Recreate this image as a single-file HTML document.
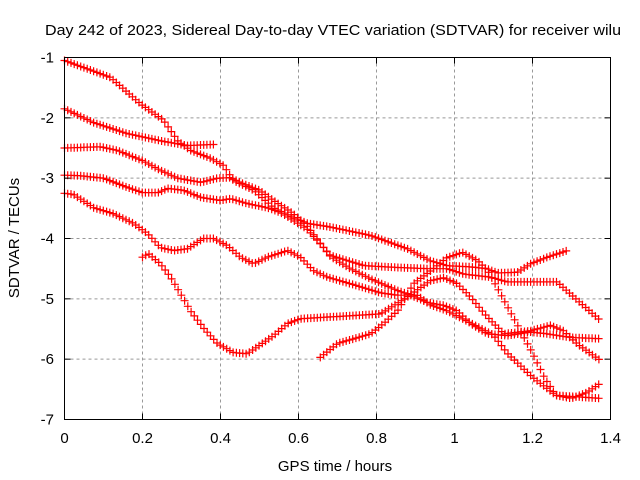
<!DOCTYPE html>
<html><head><meta charset="utf-8"><style>
body{margin:0;background:#fff;}
svg{display:block;font-family:"Liberation Sans",sans-serif;}
</style></head><body>
<svg id="chart" width="640" height="480" viewBox="0 0 640 480">
<text x="333" y="35" font-size="15" text-anchor="middle" textLength="576" lengthAdjust="spacingAndGlyphs" fill="#000">Day 242 of 2023, Sidereal Day-to-day VTEC variation (SDTVAR) for receiver wilu</text>
<g id="grid"></g>
<g id="marks"></g>
<rect x="64.5" y="57.5" width="546" height="362" fill="none" stroke="#000" stroke-width="1"/>
<g id="ticks"></g>
<text x="335" y="471" font-size="15" text-anchor="middle">GPS time / hours</text>
<text transform="translate(19,238) rotate(-90)" font-size="15" text-anchor="middle">SDTVAR / TECUs</text>
</svg>
<script>
const xTicks=[0,0.2,0.4,0.6,0.8,1,1.2,1.4];
const xTickLabels=["0","0.2","0.4","0.6","0.8","1","1.2","1.4"];
const yTicks=[-1,-2,-3,-4,-5,-6,-7];
const yTickLabels=["-1","-2","-3","-4","-5","-6","-7"];
const seriesA=[[0,-1.05],[0.118,-1.33],[0.195,-1.77],[0.254,-2.04],[0.29,-2.38],[0.323,-2.54],[0.374,-2.67],[0.408,-2.79],[0.433,-3.04],[0.485,-3.2],[0.536,-3.49],[0.587,-3.65],[0.623,-3.75],[0.682,-3.81],[0.785,-3.95],[0.879,-4.17],[0.938,-4.37],[0.981,-4.45],[1.041,-4.47],[1.084,-4.5],[1.11,-4.57],[1.161,-4.56],[1.195,-4.42],[1.238,-4.31],[1.289,-4.2]];
const seriesB=[[0,-1.85],[0.075,-2.08],[0.16,-2.26],[0.246,-2.38],[0.315,-2.46],[0.387,-2.44]];
const seriesC=[[0,-2.5],[0.092,-2.48],[0.136,-2.54],[0.2,-2.71],[0.246,-2.87],[0.29,-3.0],[0.35,-3.07],[0.392,-3.0],[0.426,-2.99],[0.45,-3.07],[0.5,-3.2],[0.536,-3.37],[0.587,-3.59],[0.623,-3.8],[0.682,-4.3],[0.733,-4.5],[0.785,-4.67],[0.853,-4.86],[0.888,-4.94],[0.93,-5.06],[0.973,-5.11],[1.007,-5.2],[1.041,-5.41],[1.084,-5.58],[1.135,-5.61],[1.195,-5.55],[1.238,-5.58],[1.297,-5.64],[1.374,-5.66]];
const seriesD=[[0,-2.95],[0.041,-2.96],[0.1,-3.0],[0.16,-3.15],[0.2,-3.24],[0.24,-3.24],[0.264,-3.17],[0.305,-3.2],[0.35,-3.32],[0.4,-3.37],[0.426,-3.34],[0.468,-3.42],[0.52,-3.49],[0.554,-3.57],[0.587,-3.7],[0.623,-3.85],[0.682,-4.28],[0.768,-4.45],[0.853,-4.48],[0.93,-4.5],[0.981,-4.5],[1.024,-4.59],[1.092,-4.64],[1.135,-4.72],[1.263,-4.72],[1.306,-4.97],[1.374,-5.36]];
const seriesG=[[0,-3.25],[0.023,-3.27],[0.075,-3.49],[0.126,-3.59],[0.177,-3.75],[0.213,-3.92],[0.246,-4.15],[0.28,-4.2],[0.315,-4.17],[0.356,-4.0],[0.382,-4.0],[0.418,-4.12],[0.451,-4.31],[0.485,-4.42],[0.52,-4.31],[0.572,-4.2],[0.605,-4.31],[0.638,-4.53],[0.674,-4.64],[0.733,-4.75],[0.81,-4.9],[0.853,-4.94],[0.904,-4.94],[0.938,-5.1],[0.981,-5.2],[1.041,-5.4],[1.1,-5.6],[1.135,-5.9],[1.2,-6.3],[1.26,-6.6],[1.374,-6.65]];
const seriesF=[[0.2,-4.31],[0.215,-4.25],[0.246,-4.42],[0.272,-4.64],[0.297,-4.91],[0.323,-5.2],[0.356,-5.48],[0.392,-5.74],[0.433,-5.89],[0.468,-5.91],[0.5,-5.77],[0.536,-5.61],[0.572,-5.41],[0.605,-5.33],[0.81,-5.25],[0.879,-4.97],[0.938,-4.7],[0.973,-4.65],[1.007,-4.75],[1.041,-4.97],[1.084,-5.3],[1.127,-5.58],[1.195,-5.53],[1.246,-5.44],[1.28,-5.53],[1.315,-5.75],[1.374,-6.02]];
const seriesH=[[0.656,-5.97],[0.7,-5.74],[0.785,-5.58],[0.818,-5.41],[0.854,-5.2],[0.895,-4.75],[0.94,-4.53],[0.98,-4.32],[1.02,-4.23],[1.06,-4.37],[1.085,-4.53],[1.1,-4.7],[1.15,-5.3],[1.2,-5.9],[1.23,-6.3],[1.26,-6.6],[1.3,-6.65],[1.34,-6.55],[1.374,-6.4]];
const allSeries=[seriesA,seriesB,seriesC,seriesD,seriesG,seriesF,seriesH];
const seriesNames=["series-a","series-b","series-c","series-d","series-e","series-f","series-g"];

const NS="http://www.w3.org/2000/svg";
const X0=64.5,X1=610.5,Y0=57.5,Y1=419.5;
function xs(h){return X0+(h-0)/1.4*(X1-X0);}
function ys(v){return Y0+(-1-v)/6*(Y1-Y0);}
function mk(tag,attrs,parent){const e=document.createElementNS(NS,tag);for(const k in attrs)e.setAttribute(k,attrs[k]);parent.appendChild(e);return e;}

const grid=document.getElementById('grid'),ticks=document.getElementById('ticks'),marks=document.getElementById('marks');
xTicks.forEach((t,i)=>{
  const x=xs(t);
  if(i>0&&i<xTicks.length-1){const g=mk('line',{x1:x,x2:x,y1:Y0,y2:Y1,stroke:'#999','stroke-dasharray':'3,3','stroke-width':1},grid);
  
  }
  const a=mk('line',{x1:x,x2:x,y1:Y1,y2:Y1-6,stroke:'#000'},ticks);
  
  
  const b=mk('line',{x1:x,x2:x,y1:Y0,y2:Y0+6,stroke:'#000'},ticks);
  
  
  const l=mk('text',{x:x,y:443,'font-size':15,'text-anchor':'middle'},ticks);l.textContent=xTickLabels[i];
  
  
});
yTicks.forEach((t,i)=>{
  const y=ys(t);
  if(i>0&&i<yTicks.length-1){const g=mk('line',{x1:X0,x2:X1,y1:y,y2:y,stroke:'#999','stroke-dasharray':'3,3','stroke-width':1},grid);
  
  }
  const a=mk('line',{x1:X0,x2:X0+6,y1:y,y2:y,stroke:'#000'},ticks);
  
  
  const b=mk('line',{x1:X1,x2:X1-6,y1:y,y2:y,stroke:'#000'},ticks);
  
  
  const l=mk('text',{x:54,y:y+5,'font-size':15,'text-anchor':'end'},ticks);l.textContent=yTickLabels[i];
  
  
});
const step=0.0083;
allSeries.forEach((s,si)=>{
  const g=mk('g',{},marks);
  
  
  let d='';
  const t0=s[0][0],t1=s[s.length-1][0];
  let j=0;
  for(let t=t0;t<=t1+1e-9;t+=step){
    while(j<s.length-2&&t>s[j+1][0])j++;
    const a=s[j],b=s[j+1];const f=(t-a[0])/(b[0]-a[0]||1);
    const v=a[1]+(b[1]-a[1])*Math.max(0,Math.min(1,f));
    const x=xs(t),y=ys(v);
    d+=`M${(x-4).toFixed(1)} ${y.toFixed(1)}h8M${x.toFixed(1)} ${(y-4).toFixed(1)}v8`;
  }
  mk('path',{d:d,stroke:'#f00','stroke-width':1.2,fill:'none'},g);
});
</script>
</body></html>
